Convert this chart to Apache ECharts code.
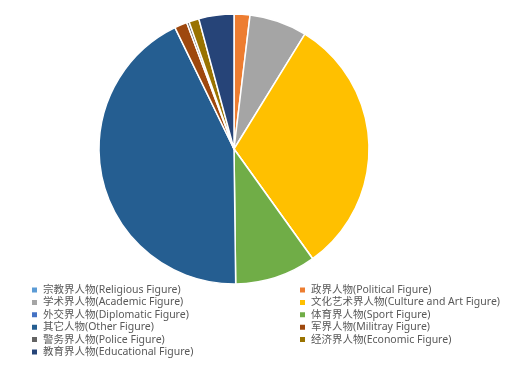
<!DOCTYPE html>
<html>
<head>
<meta charset="utf-8">
<script src="https://cdn.jsdelivr.net/npm/echarts@6/dist/echarts.min.js"></script>
<style>
  html, body { margin: 0; padding: 0; background: #fff; }
  #chart { width: 515px; height: 365px; }
</style>
</head>
<body>
<div id="chart"></div>
<script>
// categories and shares (%), clockwise from 12 o'clock
const categories = [
  '宗教界人物(Religious Figure)',
  '政界人物(Political Figure)',
  '学术界人物(Academic Figure)',
  '文化艺术界人物(Culture and Art Figure)',
  '外交界人物(Diplomatic Figure)',
  '体育界人物(Sport Figure)',
  '其它人物(Other Figure)',
  '军界人物(Militray Figure)',
  '警务界人物(Police Figure)',
  '经济界人物(Economic Figure)',
  '教育界人物(Educational Figure)'
];
const shares = [0, 1.9, 6.9, 31.3, 0, 9.7, 43.0, 1.5, 0.3, 1.2, 4.2];
const colors = ['#5B9BD5', '#ED7D31', '#A5A5A5', '#FFC000', '#4472C4', '#70AD47',
                '#255E91', '#9E480E', '#636363', '#997300', '#264478'];

// legend is laid out in two columns, alternating items
const leftCol = categories.filter((c, i) => i % 2 === 0);
const rightCol = categories.filter((c, i) => i % 2 === 1);

const legendText = {
  color: '#595959',
  fontSize: 10.5,
  fontFamily: '"Noto Sans", "Noto Sans CJK SC", sans-serif',
  lineHeight: 12
};

const chart = echarts.init(document.getElementById('chart'));
chart.setOption({
  animation: false,
  color: colors,
  legend: [
    {
      data: leftCol, orient: 'vertical', left: 30, top: 284, height: 100,
      itemWidth: 7, itemHeight: 7, itemGap: 0.4, icon: 'rect', padding: 0,
      textStyle: legendText, selectedMode: false
    },
    {
      data: rightCol, orient: 'vertical', left: 298, top: 284, height: 100,
      itemWidth: 7, itemHeight: 7, itemGap: 0.4, icon: 'rect', padding: 0,
      textStyle: legendText, selectedMode: false
    }
  ],
  series: [{
    type: 'pie',
    center: [234, 149],
    radius: 135,
    startAngle: 90,
    clockwise: true,
    label: { show: false },
    labelLine: { show: false },
    emphasis: { disabled: true },
    itemStyle: { borderColor: '#fff', borderWidth: 1.5 },
    data: categories.map((name, i) => ({ name: name, value: shares[i] }))
  }]
});
</script>
</body>
</html>
